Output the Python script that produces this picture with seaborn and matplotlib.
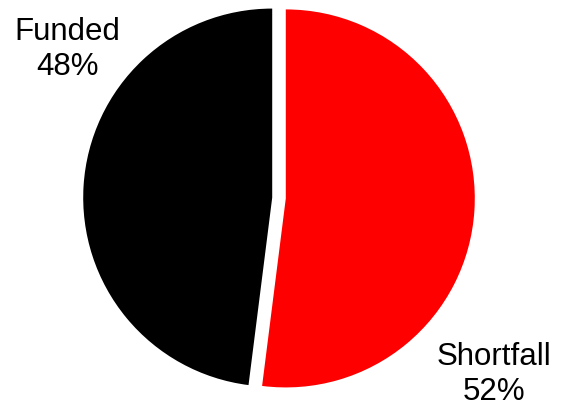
import matplotlib
matplotlib.use("Agg")
import matplotlib.pyplot as plt
import seaborn as sns

categories = ["Shortfall", "Funded"]
values = [52, 48]
colors = ["#FF0000", "#000000"]

sns.set_theme(style="white")
plt.rcParams['font.family'] = ['Liberation Sans', 'DejaVu Sans']

W, H = 564, 407
fig = plt.figure(figsize=(W / 100, H / 100), dpi=100)
ax = fig.add_axes([0, 0, 1, 1])

r_px = 189.0
cx, cy = 279.0, 407 - 198.0

ax.pie(values, colors=colors, startangle=90, counterclock=False,
       explode=[0.036, 0.036], radius=1.0,
       wedgeprops=dict(linewidth=0))
ax.set_xlim(-cx / r_px, (W - cx) / r_px)
ax.set_ylim(-cy / r_px, (H - cy) / r_px)
ax.set_axis_off()

labels = [f"{c}\n{v}%" for c, v in zip(categories, values)]
fig.text(494.5 / W, 7 / H, labels[0], ha="center", va="baseline",
         fontsize=22.5, color="black", linespacing=1.2)
fig.text(67.5 / W, (H - 75) / H, labels[1], ha="center", va="baseline",
         fontsize=22.5, color="black", linespacing=1.2)

fig.savefig("out.png", dpi=100)
